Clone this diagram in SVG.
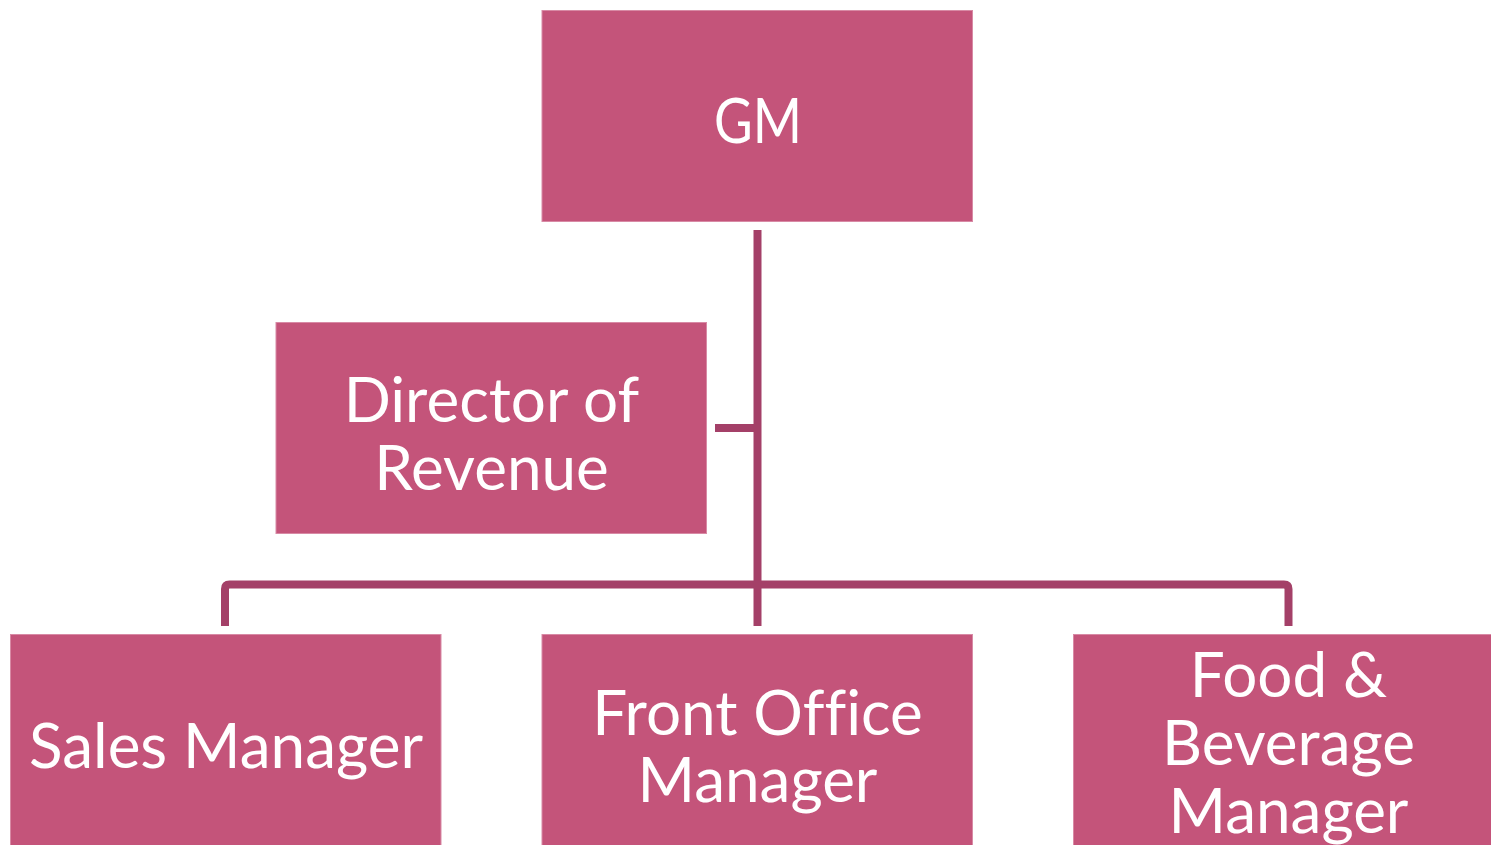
<svg xmlns="http://www.w3.org/2000/svg" width="1491" height="845" viewBox="0 0 1491 845">
  <style>
    .box { fill: #C4547A; stroke: #D88AA5; stroke-width: 1; }
    .lbl { fill: #FFFFFF; font-family: Lato, "Open Sans", sans-serif; font-size: 62px; text-anchor: middle; font-variant-ligatures: none; }
    .wire { fill: none; stroke: #A44068; stroke-width: 8; stroke-linejoin: round; }
  </style>
  <rect width="1491" height="845" fill="#FFFFFF"/>

  <!-- connectors -->
  <g id="connectors">
    <path class="wire" d="M757.5,230 V626"/>
    <path class="wire" d="M715,428 H757.5" stroke-linejoin="miter"/>
    <path class="wire" d="M225,626 V589 Q225,584.5 229.5,584.5 H1284 Q1288.5,584.5 1288.5,589 V626"/>
  </g>

  <g id="gm">
    <rect class="box" x="542" y="10.5" width="430.5" height="211"/>
    <text class="lbl" x="758" y="143" textLength="88" lengthAdjust="spacingAndGlyphs">GM</text>
  </g>

  <g id="director-of-revenue">
    <rect class="box" x="276" y="322.5" width="430.5" height="211"/>
    <text class="lbl" x="491.5" y="422">Director of</text>
    <text class="lbl" x="491.5" y="490">Revenue</text>
  </g>

  <g id="sales-manager">
    <rect class="box" x="10.5" y="634.5" width="430.5" height="215"/>
    <text class="lbl" x="226" y="768">Sales Manager</text>
  </g>

  <g id="front-office-manager">
    <rect class="box" x="542" y="634.5" width="430.5" height="215"/>
    <text class="lbl" x="757.5" y="735">Front Office</text>
    <text class="lbl" x="757.5" y="802">Manager</text>
  </g>

  <g id="food-beverage-manager">
    <rect class="box" x="1073.5" y="634.5" width="425" height="215"/>
    <text class="lbl" x="1288.5" y="697">Food &amp;</text>
    <text class="lbl" x="1288.5" y="765">Beverage</text>
    <text class="lbl" x="1288.5" y="833">Manager</text>
  </g>
</svg>
